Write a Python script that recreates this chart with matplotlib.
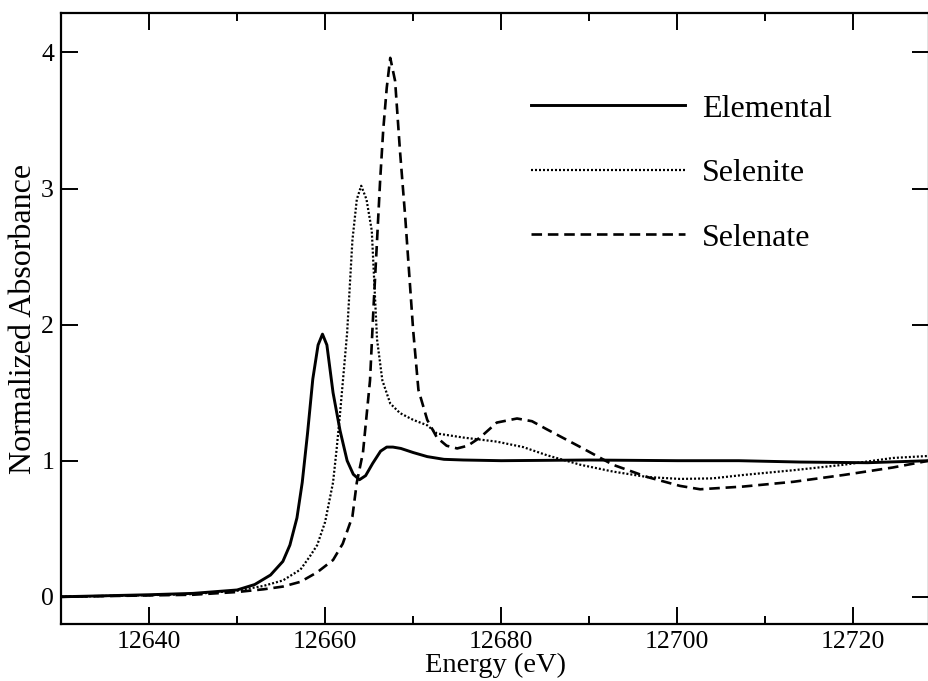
#!/usr/bin/env python3
import matplotlib
matplotlib.use("Agg")
import matplotlib.pyplot as plt
from matplotlib.ticker import MultipleLocator

# values (energy in eV, normalized absorbance)
elemental_e = [12630, 12640, 12645, 12650, 12652, 12653.8, 12655.2, 12656.0, 12656.8, 12657.4,
               12658.0, 12658.6, 12659.2, 12659.7, 12660.2, 12660.9, 12661.7, 12662.5,
               12663.2, 12663.9, 12664.6, 12665.4, 12666.3, 12667.0, 12667.7, 12668.6,
               12670.0, 12671.6, 12673.5, 12675.7, 12680, 12690, 12700, 12707,
               12714, 12721.6, 12728.6]
elemental_a = [0.0, 0.015, 0.025, 0.05, 0.09, 0.16, 0.26, 0.38, 0.58, 0.84,
               1.2, 1.6, 1.85, 1.93, 1.85, 1.5, 1.22, 1.0,
               0.9, 0.86, 0.89, 0.98, 1.07, 1.1, 1.1, 1.09,
               1.06, 1.03, 1.01, 1.005, 1.0, 1.005, 1.0, 1.0,
               0.99, 0.985, 1.0]

selenite_e = [12630, 12640, 12645, 12650, 12653, 12655.2, 12657.2, 12658.3, 12659.1,
              12660.0, 12660.9, 12661.3, 12661.7, 12662.5, 12663.1, 12663.6, 12664.1,
              12664.7, 12665.3, 12665.9, 12666.5, 12667.4, 12668.5, 12670.0, 12671.6,
              12672.7, 12675.7, 12679.5, 12682.5, 12685.2, 12689, 12692.7, 12696.6,
              12700.3, 12704, 12707.5, 12713.2, 12718.9, 12724.5, 12728.6]
selenite_a = [0.0, 0.012, 0.02, 0.045, 0.08, 0.12, 0.2, 0.3, 0.38,
              0.55, 0.84, 1.08, 1.35, 1.94, 2.62, 2.92, 3.02,
              2.92, 2.69, 1.89, 1.59, 1.42, 1.35, 1.3, 1.26,
              1.2, 1.17, 1.14, 1.1, 1.04, 0.97, 0.92, 0.88,
              0.866, 0.87, 0.895, 0.93, 0.97, 1.02, 1.035]

selenate_e = [12630, 12640, 12645, 12650, 12653, 12655.2, 12657.2, 12659.1, 12660.9,
              12662.0, 12663.1, 12663.6, 12664.3, 12665.1, 12665.5, 12665.9, 12666.25,
              12666.6, 12667.0, 12667.4, 12667.95, 12668.5, 12669.1, 12670.0, 12670.6,
              12671.6, 12672.7, 12673.8, 12675.0, 12676.2, 12677.6, 12679.5, 12681.8,
              12683.5, 12685.2, 12689, 12692.7, 12696.6, 12700.3, 12702.6, 12707.5,
              12713.2, 12718.9, 12724.5, 12728.6]
selenate_a = [0.0, 0.01, 0.015, 0.035, 0.055, 0.075, 0.11, 0.18, 0.27,
              0.39, 0.59, 0.84, 1.06, 1.59, 2.13, 2.62, 3.06,
              3.43, 3.74, 3.96, 3.79, 3.28, 2.79, 1.96, 1.52,
              1.3, 1.17, 1.11, 1.09, 1.11, 1.17, 1.28, 1.31,
              1.29, 1.23, 1.1, 0.97, 0.88, 0.815, 0.79, 0.81,
              0.845, 0.895, 0.95, 1.0]

series_names = ["Elemental", "Selenite", "Selenate"]

plt.rcParams["font.family"] = ["Liberation Serif", "DejaVu Serif"]

fig = plt.figure(figsize=(9.29, 6.81), dpi=100)
ax = fig.add_axes([0.0657, 0.0837, 0.9343, 0.8973])

ax.plot(elemental_e, elemental_a, color="black", lw=2.1, ls="-", label=series_names[0])
ax.plot(selenite_e, selenite_a, color="black", lw=1.6, ls=(0, (0.9, 0.9)), label=series_names[1])
ax.plot(selenate_e, selenate_a, color="black", lw=1.9, ls=(0, (4.0, 2.2)), label=series_names[2])

ax.set_xlim(12630, 12728.6)
ax.set_ylim(-0.2, 4.29)

ax.xaxis.set_major_locator(MultipleLocator(20))
ax.xaxis.set_minor_locator(MultipleLocator(10))
ax.yaxis.set_major_locator(MultipleLocator(1))
ax.tick_params(which="both", direction="in", top=True, right=True, width=1.4)
ax.tick_params(which="major", length=12, labelsize=18.5, pad=5)
ax.tick_params(which="minor", length=6)
for s in ax.spines.values():
    s.set_linewidth(1.6)

ax.set_xlabel("Energy (eV)", fontsize=20.5, labelpad=0)
ax.set_ylabel("Normalized Absorbance", fontsize=23, labelpad=2)

ax.legend(loc="upper left", bbox_to_anchor=(0.527, 0.888), frameon=False,
          fontsize=23, handlelength=4.8, handletextpad=0.55, labelspacing=1.1,
          borderaxespad=0)

fig.savefig("out.png", dpi=100)
